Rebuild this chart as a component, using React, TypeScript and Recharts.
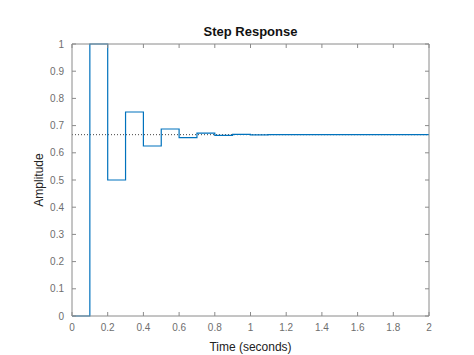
import React from 'react';
import { LineChart, Line, XAxis, YAxis, Label } from 'recharts';

const timeSeconds = [0, 0.1, 0.2, 0.3, 0.4, 0.5, 0.6, 0.7, 0.8, 0.9, 1.0, 1.1, 1.2, 1.3, 1.4, 1.5, 1.6, 1.7, 1.8, 1.9, 2.0];
const amplitude = [0, 1, 0.5, 0.75, 0.625, 0.6875, 0.656, 0.672, 0.664, 0.668, 0.666, 0.667, 0.667, 0.667, 0.667, 0.667, 0.667, 0.667, 0.667, 0.667, 0.667];
const steadyState = 0.6667;
const xTicks = [0, 0.2, 0.4, 0.6, 0.8, 1, 1.2, 1.4, 1.6, 1.8, 2];
const yTicks = [0, 0.1, 0.2, 0.3, 0.4, 0.5, 0.6, 0.7, 0.8, 0.9, 1];
const titleText = 'Step Response';
const xLabelText = 'Time (seconds)';
const yLabelText = 'Amplitude';

const data = timeSeconds.map((t, i) => ({ t, y: amplitude[i], ss: steadyState }));

const FONT = '"Liberation Sans", Arial, Helvetica, sans-serif';
const AXIS = '#8a8a8a';
const TICKTXT = '#6e6e6e';
const TL = 4;

const fmt = (v: number) => String(Math.round(v * 10) / 10);

const BottomTick = (props: any) => {
  const { x, y, payload } = props;
  return (
    <g>
      <line x1={x} x2={x} y1={y} y2={y - TL} stroke={AXIS} />
      <text x={x} y={y + 15} textAnchor="middle" fill={TICKTXT} fontSize={10} fontFamily={FONT}>{fmt(payload.value)}</text>
    </g>
  );
};
const TopTick = (props: any) => {
  const { x, y } = props;
  return <line x1={x} x2={x} y1={y} y2={y + TL} stroke={AXIS} />;
};
const LeftTick = (props: any) => {
  const { x, y, payload } = props;
  return (
    <g>
      <line x1={x} x2={x + TL} y1={y} y2={y} stroke={AXIS} />
      <text x={x - 8} y={y + 3.5} textAnchor="end" fill={TICKTXT} fontSize={10} fontFamily={FONT}>{fmt(payload.value)}</text>
    </g>
  );
};
const RightTick = (props: any) => {
  const { x, y } = props;
  return <line x1={x} x2={x - TL} y1={y} y2={y} stroke={AXIS} />;
};

export default function App() {
  return (
    <div style={{ position: 'absolute', left: 0, top: 0, background: '#fff' }}>
      <LineChart width={474} height={355} data={data} margin={{ top: 43, right: 44, bottom: 0, left: 0 }}>
        <XAxis
          xAxisId="x"
          orientation="bottom"
          type="number"
          dataKey="t"
          domain={[0, 2]}
          ticks={xTicks}
          height={39}
          tickSize={0}
          tickMargin={0}
          interval={0}
          axisLine={{ stroke: AXIS }}
          tickLine={false}
          tick={BottomTick}
        >
          <Label value={xLabelText} position="insideBottom" offset={4} style={{ fontSize: 12, fontFamily: FONT, fill: '#222' }} />
        </XAxis>
        <XAxis
          xAxisId="xt"
          orientation="top"
          type="number"
          dataKey="t"
          domain={[0, 2]}
          ticks={xTicks}
          height={1}
          tickSize={0}
          tickMargin={0}
          interval={0}
          axisLine={{ stroke: AXIS }}
          tickLine={false}
          tick={TopTick}
        >
          <Label value={titleText} position="top" offset={7} style={{ fontSize: 13, fontWeight: 'bold', fontFamily: FONT, fill: '#111' }} />
        </XAxis>
        <YAxis
          yAxisId="y"
          orientation="left"
          type="number"
          domain={[0, 1]}
          ticks={yTicks}
          width={72}
          tickSize={0}
          tickMargin={0}
          interval={0}
          axisLine={{ stroke: AXIS }}
          tickLine={false}
          tick={LeftTick}
        >
          <Label value={yLabelText} angle={-90} position="insideLeft" offset={39} style={{ textAnchor: 'middle', fontSize: 12, fontFamily: FONT, fill: '#222' }} />
        </YAxis>
        <YAxis
          yAxisId="yr"
          orientation="right"
          type="number"
          domain={[0, 1]}
          ticks={yTicks}
          width={1}
          tickSize={0}
          tickMargin={0}
          interval={0}
          axisLine={{ stroke: AXIS }}
          tickLine={false}
          tick={RightTick}
        />
        <Line
          xAxisId="xt"
          yAxisId="yr"
          dataKey="ss"
          type="linear"
          stroke="#444"
          strokeWidth={1}
          strokeDasharray="1 2"
          dot={false}
          isAnimationActive={false}
        />
        <Line
          xAxisId="x"
          yAxisId="y"
          dataKey="y"
          type="stepAfter"
          stroke="#0072BD"
          strokeWidth={1.2}
          dot={false}
          isAnimationActive={false}
        />
      </LineChart>
    </div>
  );
}
